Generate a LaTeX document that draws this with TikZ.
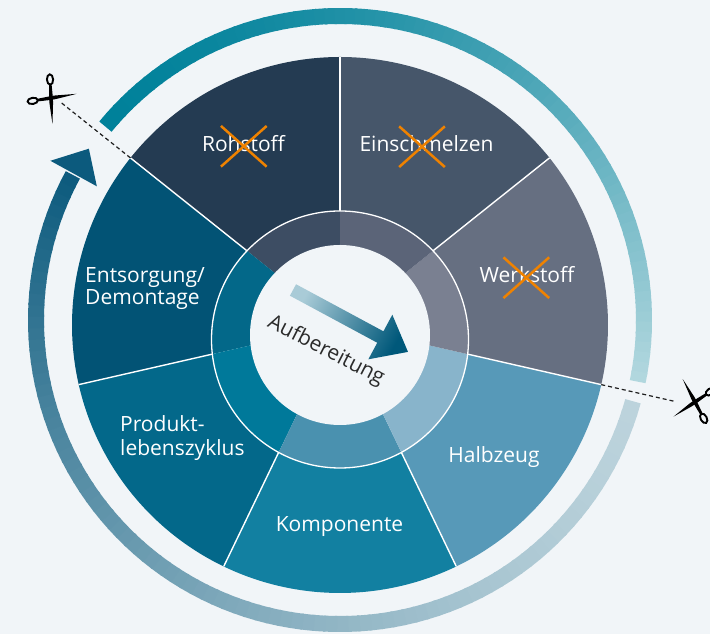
\documentclass[tikz,border=0pt]{standalone}
\usepackage{fontspec}
\setmainfont{Open Sans}
\usetikzlibrary{calc,shapes.misc}
\definecolor{bg}{HTML}{F1F5F8}
\definecolor{cRoh}{HTML}{243B52}
\definecolor{cEin}{HTML}{46566A}
\definecolor{cWer}{HTML}{666F81}
\definecolor{cHal}{HTML}{5799B8}
\definecolor{cKom}{HTML}{1280A1}
\definecolor{cPro}{HTML}{03688A}
\definecolor{cEnt}{HTML}{025375}
\definecolor{rRoh}{HTML}{3D4D63}
\definecolor{rEin}{HTML}{5B6478}
\definecolor{rWer}{HTML}{7A8091}
\definecolor{rHal}{HTML}{88B4CB}
\definecolor{rKom}{HTML}{4A91AF}
\definecolor{rPro}{HTML}{00799A}
\definecolor{rEnt}{HTML}{036889}
\definecolor{arcUs}{HTML}{00819A}
\definecolor{arcUe}{HTML}{B3D8DF}
\definecolor{arcLs}{HTML}{BCD3DC}
\definecolor{arcLe}{HTML}{0C5A7D}
\definecolor{arrLight}{HTML}{A9CBD7}
\definecolor{arrDark}{HTML}{00587A}
\definecolor{xorange}{HTML}{EF8200}
\definecolor{txtdark}{HTML}{2B2B2B}
\definecolor{cutc}{HTML}{1E1E1E}
\tikzset{
  lab/.style={text=white, font=\fontsize{21}{24}\selectfont, inner sep=0pt},
  seg/.style={white, line width=1.4pt},
  crossx/.style={cross out, draw=xorange, line width=2.5pt, minimum width=45.7pt, minimum height=40.7pt, inner sep=0pt, outer sep=0pt},
  cutline/.style={cutc, line width=1.2pt, dash pattern=on 4pt off 3pt},
  scissorpiece/.pic={
    \draw[black, line width=1.9pt] (-18.5,0) ellipse[x radius=5.2, y radius=3.1];
    \fill[black] (-13.5,-1.3) -- (0,-1.9) -- (5,-1.8) -- (26,0.1) -- (5,1.8) -- (0,1.9) -- (-13.5,1.3) -- cycle;
  }
}
\begin{document}
\begin{tikzpicture}[x=1pt,y=1pt]
\useasboundingbox[fill=bg] (0,0) rectangle (710,634);
\clip (0,0) rectangle (710,634);
\coordinate (pc) at (340,309);
\coordinate (rc) at (340,294.5);
\coordinate (ic) at (340,299);
\coordinate (ac) at (340,314);
% pie sectors
\foreach \k/\col in {0/cRoh,1/cEnt,2/cPro,3/cKom,4/cHal,5/cWer,6/cEin}{
  \pgfmathsetmacro\aa{90+\k*360/7}
  \pgfmathsetmacro\bb{90+(\k+1)*360/7}
  \fill[\col] (pc) -- ++(\aa:268) arc[start angle=\aa, end angle=\bb, radius=268] -- cycle;
}
\foreach \k in {0,...,6}{
  \pgfmathsetmacro\aa{90+\k*360/7}
  \draw[seg] (pc) -- ++(\aa:268);
}
% ring
\begin{scope}
\clip (rc) circle[radius=128.5];
\foreach \k/\col in {0/rRoh,1/rEnt,2/rPro,3/rKom,4/rHal,5/rWer,6/rEin}{
  \pgfmathsetmacro\aa{90+\k*360/7}
  \pgfmathsetmacro\bb{90+(\k+1)*360/7}
  \fill[\col] (pc) -- ++(\aa:220) arc[start angle=\aa, end angle=\bb, radius=220] -- cycle;
}
\end{scope}
\draw[white, line width=1.3pt] (rc) circle[radius=128.5];
\fill[bg] (ic) circle[radius=90];
% labels
\node[lab, anchor=base] (roh) at (243.5,482) {Rohstoff};
\node[lab, anchor=base] (ein) at (426.5,482) {Einschmelzen};
\node[lab, anchor=base] (wer) at (527,351) {Werkstoff};
\node[lab, anchor=base] (hal) at (494,171) {Halbzeug};
\node[lab, anchor=base] (kom) at (339.5,102) {Komponente};
\node[lab, anchor=base west] (ent1) at (85,351) {Entsorgung/};
\node[lab, anchor=base west] (ent2) at (85,329) {Demontage};
\node[lab, anchor=base west] (pro1) at (120,202) {Produkt-};
\node[lab, anchor=base west] (pro2) at (120,178) {lebenszyklus};
% crosses
\node[crossx] (xroh) at (243.8,487.7) {};
\node[crossx] (xein) at (422,487.3) {};
\node[crossx] (xwer) at (526.3,356.3) {};
% centre arrow
\begin{scope}[shift={(293,344)}, rotate=-28.3]
\shade[top color=arrLight, bottom color=arrDark, shading angle=61.7]
  (0,-6.5) -- (99.2,-6.5) -- (99.2,-25.3) -- (130.6,0) -- (99.2,25.3) -- (99.2,6.5) -- (0,6.5) -- cycle;
\end{scope}
\node[text=txtdark, font=\fontsize{21}{24}\selectfont, rotate=-27, inner sep=0pt] (auf) at (326,283) {Aufbereitung};
% big arc, upper part
\foreach \i in {0,...,79}{
  \pgfmathsetmacro\aa{140.5-(\i/80)*152.2}
  \pgfmathsetmacro\bb{max(-11.7,140.5-((\i+1)/80)*152.2-0.4)}
  \pgfmathsetmacro\p{100*((\i+0.5)/80)^1.6}
  \colorlet{segc}{arcUe!\p!arcUs}
  \draw[segc, line width=16pt] (ac) ++(\aa:304) arc[start angle=\aa, end angle=\bb, radius=304];
}
% big arc, lower part
\foreach \i in {0,...,89}{
  \pgfmathsetmacro\aa{-15.5-(\i/90)*193}
  \pgfmathsetmacro\bb{max(-208.5,-15.5-((\i+1)/90)*193-0.4)}
  \pgfmathsetmacro\p{100*((\i+0.5)/90)^1.5}
  \colorlet{segc}{arcLe!\p!arcLs}
  \draw[segc, line width=16pt] (ac) ++(\aa:304) arc[start angle=\aa, end angle=\bb, radius=304];
}
\fill[arcLe] ($(ac)+(151.2:330.5)$) -- ($(ac)+(145.7:304)$) -- ($(ac)+(151.2:277.5)$) -- cycle;
% cut lines
\coordinate (cutA1) at ($(pc)+(141.43:268)$);
\coordinate (cutA2) at ($(pc)+(141.43:356)$);
\coordinate (cutB1) at ($(pc)+(347.14:268)$);
\coordinate (cutB2) at ($(pc)+(347.14:345)$);
\draw[cutline] (cutA1) -- (cutA2);
\draw[cutline] (cutB1) -- (cutB2);
% scissors
\pic[rotate=-87] at (51,536) {scissorpiece};
\pic[rotate=9] at (51,536) {scissorpiece};
\pic[rotate=214] at (695,232) {scissorpiece};
\pic[rotate=118] at (695,232) {scissorpiece};
\end{tikzpicture}
\end{document}
